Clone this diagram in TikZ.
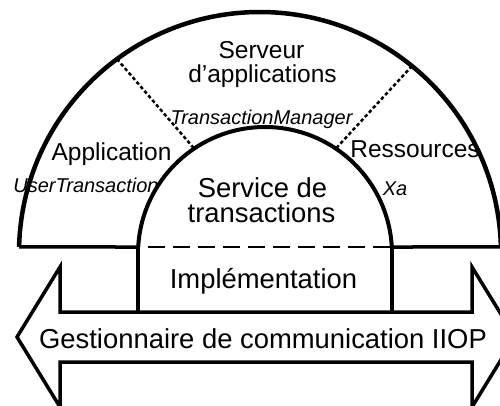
\documentclass[tikz,border=0pt]{standalone}
\usepackage{fontspec}
\setmainfont{Liberation Sans}
\usetikzlibrary{calc}
\begin{document}
\begin{tikzpicture}[x=1pt,y=1pt,
  lbl/.style={inner sep=0pt, anchor=base, font=\fontsize{24.5}{24.5}\selectfont},
  big/.style={inner sep=0pt, anchor=base, font=\fontsize{27.4}{27.4}\selectfont},
  ital/.style={inner sep=0pt, anchor=base, font=\fontsize{20}{20}\selectfont\itshape},
  outerarc/.style={line width=4.5pt},
  innerarc/.style={line width=4pt},
  baseline/.style={line width=3.5pt},
  hdash/.style={line width=2.5pt, dash pattern=on 17pt off 8pt, dash phase=-10pt},
  ddash/.style={line width=2.5pt, dash pattern=on 3.5pt off 2.5pt},
  arrowshape/.style={line width=3.5pt, line join=miter}]
\useasboundingbox (0,0) rectangle (500,405);
\clip (0,0) rectangle (500,405);
% centres and arc ends
\coordinate (oc) at (260,152);
\coordinate (ic) at (265,151);
\coordinate (oL) at ($(oc)+(178.57:241)$);
\coordinate (oR) at ($(oc)+(1.43:241)$);
\coordinate (iL) at ($(ic)+(176.84:127)$);
\coordinate (iR) at ($(ic)+(3.16:127)$);
\coordinate (o1) at ($(oc)+(126.4:241)$);
\coordinate (i1) at ($(ic)+(123.9:127)$);
\coordinate (o2) at ($(oc)+(50.9:241)$);
\coordinate (i2) at ($(ic)+(56.1:127)$);
% arrow corners
\coordinate (tipL) at (17,68);
\coordinate (hLt) at (60,138);
\coordinate (sLt) at (60,93);
\coordinate (sRt) at (472,93);
\coordinate (hRt) at (472,138);
\coordinate (tipR) at (515,68);
\coordinate (hRb) at (472,-2);
\coordinate (sRb) at (472,43);
\coordinate (sLb) at (60,43);
\coordinate (hLb) at (60,-2);
\coordinate (vL) at (iL |- sLt);
\coordinate (vR) at (iR |- sLt);
% texts
\node[lbl] (serv1) at (261.5,346) {Serveur};
\node[lbl] (serv2) at (262.5,322) {d’applications};
\node[ital] (tm) at (261.5,280) {TransactionManager};
\node[lbl] (app) at (111.5,245) {Application};
\node[ital] (ut) at (86,213) {UserTransaction};
\node[lbl] (res) at (415,248) {Ressources};
\node[ital] (xa) at (395,210) {Xa};
\node[big] (st1) at (262.5,208) {Service de};
\node[big] (st2) at (261.5,183) {transactions};
\node[big] (impl) at (263.5,117) {Implémentation};
\node[big] (gest) at (263,57) {Gestionnaire de communication IIOP};
% lines
\draw[outerarc] (oL) arc[start angle=178.57, end angle=1.43, radius=241];
\draw[innerarc] (iL) arc[start angle=176.84, end angle=3.16, radius=127];
\draw[baseline] (oL) -- (iL);
\draw[baseline] (iR) -- (oR);
\draw[hdash] (iL) -- (iR);
\draw[ddash] (o1) -- (i1);
\draw[ddash] (o2) -- (i2);
\draw[baseline] (iL) -- (vL);
\draw[baseline] (iR) -- (vR);
\draw[arrowshape] (tipL) -- (hLt) -- (sLt) -- (sRt) -- (hRt) -- (tipR) -- (hRb) -- (sRb) -- (sLb) -- (hLb) -- cycle;
\end{tikzpicture}
\end{document}
